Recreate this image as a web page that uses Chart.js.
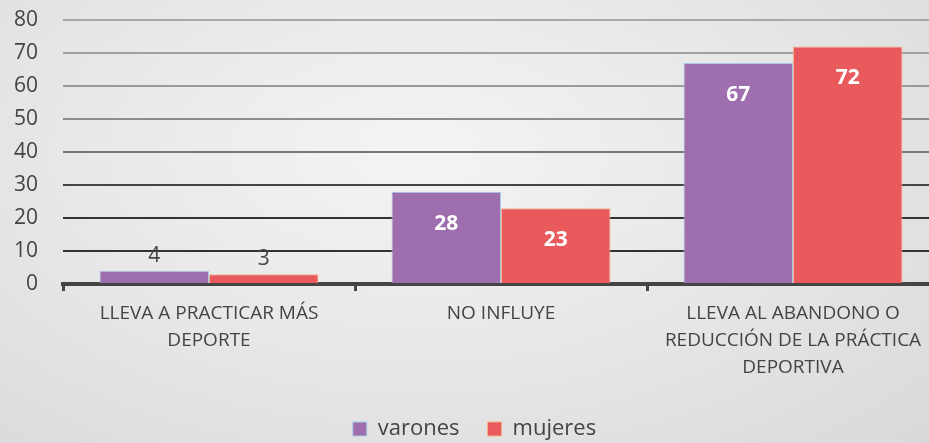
<!DOCTYPE html>
<html>
<head>
<meta charset="utf-8">
<script src="https://cdn.jsdelivr.net/npm/chart.js@4/dist/chart.umd.min.js"></script>
<style>
  html, body { margin: 0; padding: 0; overflow: hidden; }
  body {
    width: 929px; height: 443px;
    background: radial-gradient(ellipse at 45% 35%, #f4f4f4 0%, #e6e6e6 55%, #d9d9d9 100%);
    font-family: "Open Sans", sans-serif;
  }
  #wrap { width: 962px; height: 443px; position: relative; }
</style>
</head>
<body>
<div id="wrap"><canvas id="chart"></canvas></div>
<script>
// datos
const categorias = [
    ['LLEVA A PRACTICAR MÁS', 'DEPORTE'],
    ['NO INFLUYE'],
    ['LLEVA AL ABANDONO O', 'REDUCCIÓN DE LA PRÁCTICA', 'DEPORTIVA']
];
const varones = [4, 28, 67];
const mujeres = [3, 23, 72];
const yTicks = [0, 10, 20, 30, 40, 50, 60, 70, 80];

const gridColors = { 80: '#a8a8a8', 70: '#a0a0a0', 60: '#9a9a9a', 50: '#8c8c8c', 40: '#777', 30: '#444', 20: '#333', 10: '#333', 0: '#444' };

// etiquetas de valor
const valueLabels = {
    id: 'valueLabels',
    afterDatasetsDraw(chart) {
        const ctx = chart.ctx;
        ctx.save();
        ctx.textAlign = 'center';
        ctx.textBaseline = 'middle';
        chart.data.datasets.forEach((ds, i) => {
            chart.getDatasetMeta(i).data.forEach((bar, j) => {
                const v = ds.data[j];
                if (v < 10) {
                    ctx.fillStyle = '#444';
                    ctx.font = '21px "Open Sans"';
                    ctx.fillText(v, bar.x, bar.y - 15);
                } else {
                    ctx.fillStyle = '#fff';
                    ctx.font = 'bold 21px "Open Sans"';
                    ctx.fillText(v, bar.x, bar.y + 32);
                }
            });
        });
        ctx.restore();
    }
};

new Chart(document.getElementById('chart'), {
    type: 'bar',
    data: {
        labels: categorias,
        datasets: [
            { label: 'varones', data: varones, backgroundColor: '#9e6eae', borderColor: '#a9cbe9', borderWidth: 1, categoryPercentage: 0.75, barPercentage: 1.0 },
            { label: 'mujeres', data: mujeres, backgroundColor: '#e95a5c', borderColor: '#f4b08a', borderWidth: 1, categoryPercentage: 0.75, barPercentage: 1.0 }
        ]
    },
    options: {
        responsive: true,
        maintainAspectRatio: false,
        animation: false,
        layout: { padding: { left: 10, right: 23, top: 20, bottom: -7 } },
        plugins: {
            legend: {
                position: 'bottom',
                labels: {
                    color: '#444',
                    font: { family: 'Open Sans', size: 22 },
                    boxWidth: 14, boxHeight: 14,
                    padding: 28
                }
            },
            tooltip: { enabled: false }
        },
        scales: {
            x: {
                grid: { offset: true, drawOnChartArea: false, drawTicks: true, tickLength: 7, color: '#444', lineWidth: 3 },
                border: { display: true, color: '#444', width: 4 },
                ticks: { color: '#444', font: { family: 'Open Sans', size: 19, lineHeight: 1.42 }, padding: 9, maxRotation: 0, autoSkip: false }
            },
            y: {
                min: 0, max: 80,
                afterBuildTicks: axis => { axis.ticks = yTicks.map(v => ({ value: v })); },
                afterFit: s => { s.width = 53; s.paddingTop = 0; s.paddingBottom = 0; },
                grid: { drawTicks: false, color: c => gridColors[c.tick.value] || '#888', lineWidth: 2 },
                border: { display: false },
                ticks: { color: '#444', font: { family: 'Open Sans', size: 21 }, padding: 25 }
            }
        }
    },
    plugins: [valueLabels]
});
</script>
</body>
</html>
